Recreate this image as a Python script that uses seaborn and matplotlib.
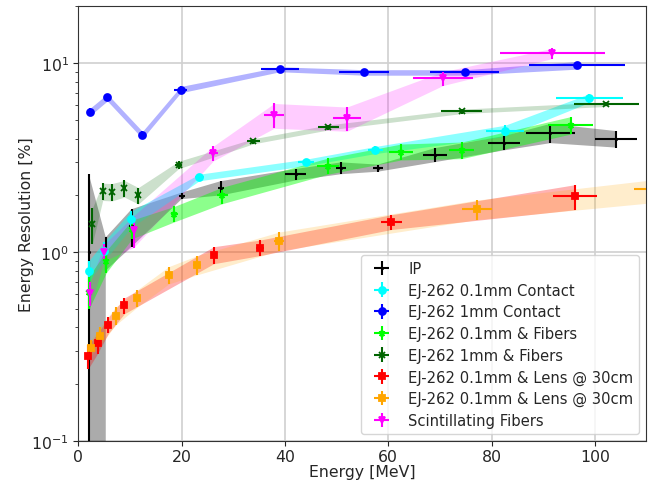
import numpy as np
import seaborn as sns
import matplotlib.pyplot as plt

# energy [MeV], energy error, resolution [%], resolution error
ip_e = [2.0, 5.3, 10.3, 20.0, 27.6, 42.1, 50.9, 58.0, 69.1, 82.4, 91.4, 104.1]
ip_ex = [0.2, 0.3, 0.5, 0.6, 0.6, 2.0, 1.0, 1.0, 2.3, 3.1, 4.7, 4.1]
ip_r = [1.0, 1.0, 1.38, 1.99, 2.19, 2.58, 2.79, 2.79, 3.28, 3.79, 4.28, 3.98]
ip_rx = [1.6, 0.2, 0.31, 0.08, 0.19, 0.18, 0.2, 0.12, 0.28, 0.33, 0.5, 0.4]

c01_e = [2.0, 5.0, 10.2, 23.4, 44.1, 57.5, 82.6, 98.9]
c01_ex = [0.1, 0.2, 0.4, 0.9, 1.5, 1.5, 3.6, 6.5]
c01_r = [0.80, 1.02, 1.50, 2.49, 2.99, 3.48, 4.40, 6.55]
c01_rx = [0.1, 0.12, 0.15, 0.1, 0.12, 0.15, 0.3, 0.35]

c1_e = [2.3, 5.6, 12.4, 19.8, 39.0, 55.3, 74.8, 96.5]
c1_ex = [0.1, 0.2, 0.4, 1.3, 3.7, 4.9, 6.7, 9.3]
c1_r = [5.55, 6.6, 4.18, 7.26, 9.3, 8.95, 8.95, 9.76]
c1_rx = [0.25, 0.28, 0.18, 0.28, 0.28, 0.3, 0.3, 0.45]

f01_e = [2.0, 5.4, 10.4, 18.6, 27.9, 48.3, 62.5, 74.2, 95.3]
f01_ex = [0.1, 0.2, 0.4, 0.7, 1.0, 2.1, 2.3, 2.4, 4.4]
f01_r = [0.62, 0.90, 1.33, 1.60, 2.01, 2.87, 3.41, 3.48, 4.72]
f01_rx = [0.12, 0.12, 0.15, 0.15, 0.2, 0.28, 0.33, 0.35, 0.5]

f1_e = [2.7, 4.7, 6.5, 8.9, 11.6, 19.4, 33.9, 48.4, 74.2, 102.2]
f1_ex = [0.1, 0.2, 0.2, 0.3, 0.4, 0.7, 1.2, 2.1, 4.0, 6.3]
f1_r = [1.41, 2.10, 2.09, 2.18, 2.0, 2.90, 3.87, 4.58, 5.57, 6.07]
f1_rx = [0.3, 0.22, 0.22, 0.22, 0.2, 0.13, 0.12, 0.14, 0.15, 0.16]

l1_e = [1.9, 3.7, 5.8, 8.9, 26.2, 35.1, 60.6, 96.2]
l1_ex = [0.1, 0.2, 0.2, 0.3, 0.5, 0.8, 2.0, 4.3]
l1_r = [0.282, 0.331, 0.412, 0.523, 0.97, 1.06, 1.45, 1.98]
l1_rx = [0.04, 0.04, 0.04, 0.05, 0.1, 0.1, 0.13, 0.3]

l2_e = [2.4, 4.1, 7.2, 11.4, 17.5, 23.0, 38.9, 77.2, 113.0]
l2_ex = [0.1, 0.2, 0.3, 0.4, 0.6, 0.8, 1.0, 2.9, 5.5]
l2_r = [0.312, 0.360, 0.462, 0.573, 0.76, 0.86, 1.15, 1.69, 2.15]
l2_rx = [0.03, 0.04, 0.05, 0.06, 0.08, 0.1, 0.13, 0.2, 0.3]

sf_e = [2.3, 5.0, 10.7, 26.1, 37.9, 52.0, 70.6, 91.8]
sf_ex = [0.1, 0.2, 0.4, 0.9, 2.0, 2.7, 5.8, 10.2]
sf_r = [0.61, 1.0, 1.31, 3.34, 5.33, 5.12, 8.33, 11.3]
sf_rx = [0.09, 0.1, 0.25, 0.3, 0.8, 0.75, 0.7, 0.7]

series = [
    ("IP", ip_e, ip_ex, ip_r, ip_rx, "black", ".", 2, 0.33),
    ("EJ-262 0.1mm Contact", c01_e, c01_ex, c01_r, c01_rx, "cyan", "o", 5, 0.45),
    ("EJ-262 1mm Contact", c1_e, c1_ex, c1_r, c1_rx, "blue", "o", 5, 0.3),
    ("EJ-262 0.1mm & Fibers", f01_e, f01_ex, f01_r, f01_rx, "lime", "*", 5, 0.45),
    ("EJ-262 1mm & Fibers", f1_e, f1_ex, f1_r, f1_rx, "darkgreen", "x", 4, 0.2),
    ("EJ-262 0.1mm & Lens @ 30cm", l1_e, l1_ex, l1_r, l1_rx, "red", "s", 5, 0.3),
    ("EJ-262 0.1mm & Lens @ 30cm", l2_e, l2_ex, l2_r, l2_rx, "orange", "s", 5, 0.2),
    ("Scintillating Fibers", sf_e, sf_ex, sf_r, sf_rx, "magenta", "v", 5, 0.2),
]

sns.set_style("ticks")
plt.rcParams["font.family"] = ["DejaVu Sans"]

fig = plt.figure(figsize=(6.49, 4.81), dpi=100)
ax = fig.add_axes([0.1208, 0.0805, 0.9961 - 0.1208, 0.9846 - 0.0805])
ax.set_yscale("log")

for label, e, ex, r, rx, color, marker, ms, alpha in series:
    r = np.array(r)
    rx = np.array(rx)
    ax.fill_between(e, r - rx, r + rx, color=color, alpha=alpha, linewidth=0, zorder=2)
    ax.errorbar(e, r, xerr=ex, yerr=rx, fmt=marker, color=color, ms=ms,
                elinewidth=1.5, mew=1.3, capsize=0, label=label, zorder=3)

ax.set_xlim(0, 110)
ax.set_ylim(0.1, 20)
ax.set_xticks([0, 20, 40, 60, 80, 100])
ax.grid(True, which="major", color="#d0d0d0", linewidth=1.2)
ax.set_axisbelow(True)
ax.tick_params(labelsize=11.3)
ax.tick_params(axis="x", pad=2)
ax.set_xlabel("Energy [MeV]", fontsize=11.3, labelpad=0)
ax.set_ylabel("Energy Resolution [%]", fontsize=11.3, labelpad=-2)
for s in ax.spines.values():
    s.set_color("#333333")
ax.legend(loc="lower right", fontsize=10.6, labelspacing=0.45)

fig.savefig("out.png", dpi=100)
